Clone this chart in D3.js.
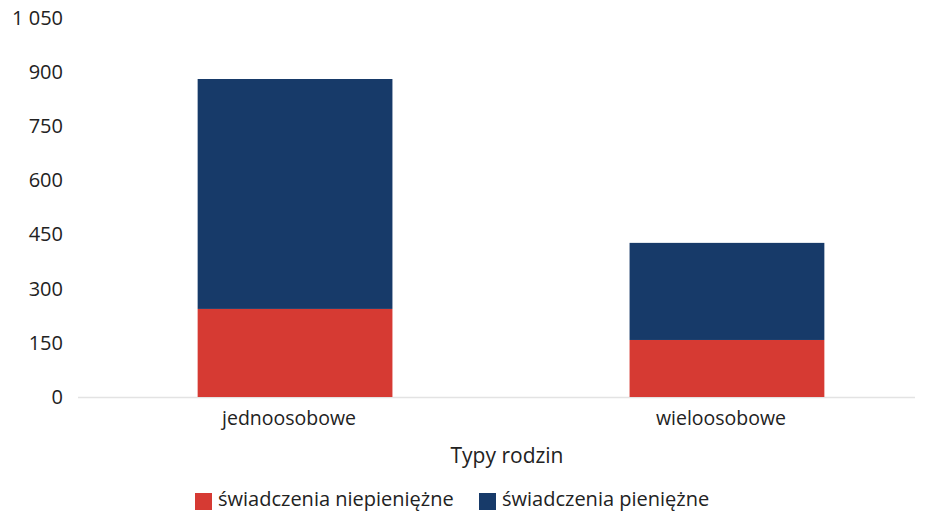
<!DOCTYPE html>
<html><head><meta charset="utf-8">
<script src="https://cdn.jsdelivr.net/npm/d3@7"></script>
<style>body{margin:0;background:#fff}svg{display:block}text{font-family:"Open Sans","Noto Sans",sans-serif;fill:#222}</style>
</head><body><svg id="c" width="926" height="516"></svg>
<script>
const categories = ["jednoosobowe", "wieloosobowe"];
const seriesNames = ["świadczenia niepieniężne", "świadczenia pieniężne"];
const niepieniezne = [244, 158];
const pieniezne = [637, 269];
const yTicks = [0, 150, 300, 450, 600, 750, 900, 1050];
const colors = ["#d63a33", "#173a69"];

const svg = d3.select("#c");
const x = d3.scaleBand().domain(categories).range([78, 944]).paddingInner(0.549).paddingOuter(0.277);
const y = d3.scaleLinear().domain([0, 1050]).range([397, 18]);

const data = categories.map((c, i) => ({cat: c, a: niepieniezne[i], b: pieniezne[i]}));
const stack = d3.stack().keys(["a", "b"])(data);

// baseline
svg.append("line").attr("x1", 78).attr("x2", 915).attr("y1", y(0) + 0.5).attr("y2", y(0) + 0.5)
  .attr("stroke", "#e3e3e3").attr("stroke-width", 1.5);

stack.forEach((layer, li) => {
  svg.append("g").selectAll("rect").data(layer).join("rect")
    .attr("x", d => x(d.data.cat)).attr("width", x.bandwidth())
    .attr("y", d => y(d[1])).attr("height", d => y(d[0]) - y(d[1]))
    .attr("fill", colors[li]);
});

// y axis
const yAxis = d3.axisLeft(y).tickValues(yTicks).tickSize(0).tickPadding(0)
  .tickFormat(d => d3.format(",")(d).replace(/,/g, " "));
const gy = svg.append("g").attr("transform", "translate(63,0)").call(yAxis);
gy.select(".domain").remove();
gy.selectAll("text").attr("font-size", 20).attr("fill", "#222").attr("font-family", "'Open Sans','Noto Sans',sans-serif");

// x axis
const xAxis = d3.axisBottom(x).tickSize(0).tickPadding(0);
const gx = svg.append("g").attr("transform", "translate(-6,411)").call(xAxis);
gx.select(".domain").remove();
gx.selectAll("text").attr("font-size", 19.5).attr("fill", "#222").attr("font-family", "'Open Sans','Noto Sans',sans-serif");

svg.append("text").attr("x", 507).attr("y", 463).attr("text-anchor", "middle")
  .attr("font-size", 21).text("Typy rodzin");

// legend
const legX = [195, 479];
seriesNames.forEach((n, i) => {
  const g = svg.append("g").attr("transform", `translate(${legX[i]},493)`);
  g.append("rect").attr("width", 17).attr("height", 17).attr("fill", colors[i]);
  g.append("text").attr("x", 23).attr("y", 13).attr("font-size", 20).text(n);
});
</script></body></html>
